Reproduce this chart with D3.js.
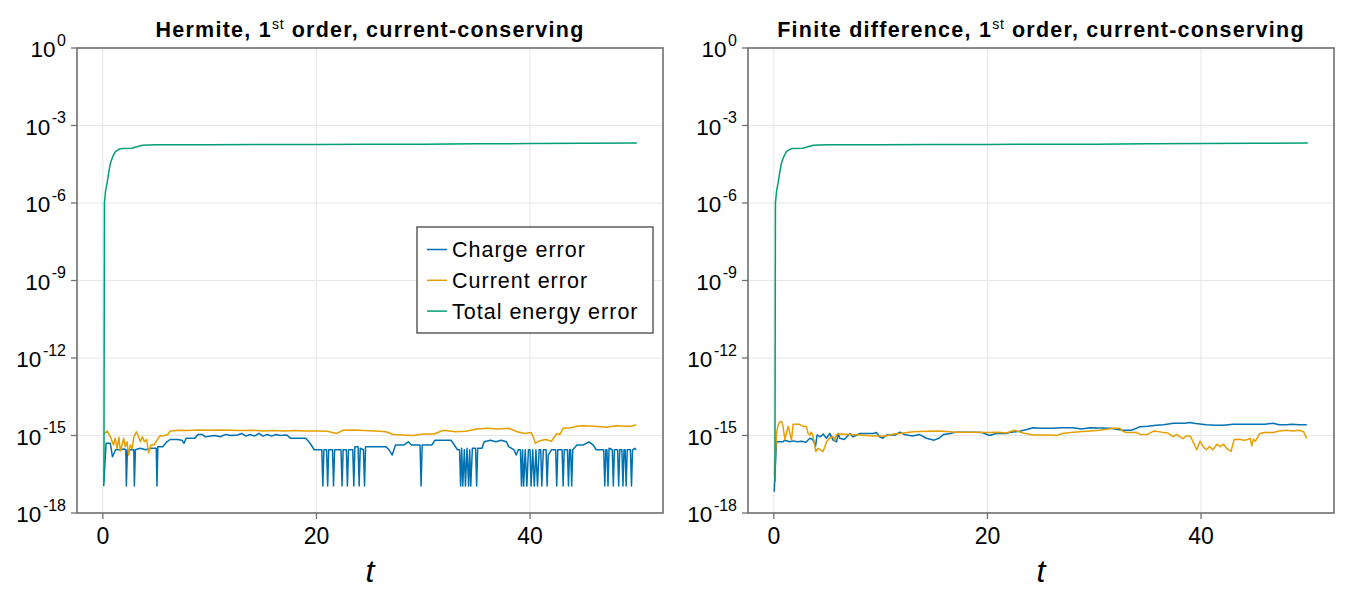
<!DOCTYPE html>
<html><head><meta charset="utf-8">
<script src="https://cdn.jsdelivr.net/npm/d3@7"></script>
<style>
html,body{margin:0;padding:0;background:#fff;}
svg{display:block;}
text{font-family:"Liberation Sans",Arial,sans-serif;}
</style></head>
<body>
<svg id="chart" width="1350" height="596"></svg>
<script>
// ---------- data ----------
const titlesMain = ["Hermite, 1", "Finite difference, 1"];
const titlesSup = ["st", "st"];
const titlesRest = [" order, current-conserving", " order, current-conserving"];
const seriesNames = ["Charge error", "Current error", "Total energy error"];
const seriesColors = ["#0072b2", "#e69f00", "#009e73"];
const xTicks = [0, 20, 40];
const yTickExps = [0, -3, -6, -9, -12, -15, -18];
const xLabel = "t";

const hermiteCharge = [[0.08,1.1e-17],[0.3,5.0e-16],[0.7,5.0e-16],[0.9,1.5e-16],[1.2,2.8e-16],[1.6,2.8e-16],[2.0,3.0e-16],[2.15,2.8e-16],[2.2,1.1e-17],[2.3,2.8e-16],[2.6,2.8e-16],[2.9,2.8e-16],[2.95,1.1e-17],[3.05,2.8e-16],[3.5,3.2e-16],[4.0,2.8e-16],[4.5,3.2e-16],[5.0,3.2e-16],[5.07,1.1e-17],[5.15,3.7e-16],[5.6,3.7e-16],[6.0,5.7e-16],[6.3,7.0e-16],[7.0,7.0e-16],[7.4,6.6e-16],[7.6,5.0e-16],[7.8,7.8e-16],[8.6,7.8e-16],[8.9,1.1e-15],[9.3,1.1e-15],[9.6,8.9e-16],[10.5,1.0e-15],[11.0,8.9e-16],[11.5,1.1e-15],[12.0,1.0e-15],[12.6,1.05e-15],[13.0,1.2e-15],[13.4,9.5e-16],[13.8,1.1e-15],[14.2,9.5e-16],[14.6,1.2e-15],[15.0,9.5e-16],[15.4,1.1e-15],[15.8,9.5e-16],[16.2,1.1e-15],[16.6,1.0e-15],[17.2,1.05e-15],[17.6,7.8e-16],[18.5,7.8e-16],[19.0,7.8e-16],[19.4,5.0e-16],[19.8,2.8e-16],[20.5,2.8e-16],[20.6,1.1e-17],[20.7,2.8e-16],[20.95,2.8e-16],[21.05,1.1e-17],[21.15,2.8e-16],[21.5,2.8e-16],[21.6,1.1e-17],[21.7,2.8e-16],[22.3,2.8e-16],[22.4,1.1e-17],[22.5,2.8e-16],[22.8,2.8e-16],[22.9,1.1e-17],[23.0,2.8e-16],[23.4,2.8e-16],[23.5,1.1e-17],[23.6,3.7e-16],[23.9,3.7e-16],[24.0,1.1e-17],[24.1,3.2e-16],[24.4,2.8e-16],[24.5,1.1e-17],[24.6,3.7e-16],[25.5,3.7e-16],[26.5,3.7e-16],[26.8,2.8e-16],[27.1,1.75e-16],[27.4,4.3e-16],[28.2,4.3e-16],[28.6,5.7e-16],[28.9,4.3e-16],[29.7,4.3e-16],[29.8,1.1e-17],[29.9,4.3e-16],[30.8,4.3e-16],[31.1,6.6e-16],[32.6,6.6e-16],[32.8,5.0e-16],[33.2,2.8e-16],[33.4,2.8e-16],[33.5,1.1e-17],[33.6,3.2e-16],[33.7,1.1e-17],[33.85,2.8e-16],[33.95,1.1e-17],[34.1,3.2e-16],[34.25,1.1e-17],[34.35,2.8e-16],[34.45,1.1e-17],[34.6,3.2e-16],[34.9,3.2e-16],[35.0,1.1e-17],[35.1,3.2e-16],[35.5,3.2e-16],[35.7,5.7e-16],[36.3,6.6e-16],[36.8,5.7e-16],[37.3,6.6e-16],[37.8,5.7e-16],[38.0,3.7e-16],[38.5,2.8e-16],[38.7,1.75e-16],[38.9,2.8e-16],[39.1,2.8e-16],[39.2,1.1e-17],[39.3,2.8e-16],[39.4,1.1e-17],[39.55,2.8e-16],[39.7,1.1e-17],[39.85,2.8e-16],[40.0,2.8e-16],[40.1,1.1e-17],[40.25,2.8e-16],[40.4,1.1e-17],[40.55,2.8e-16],[40.7,1.1e-17],[40.85,2.8e-16],[41.0,2.8e-16],[41.1,1.1e-17],[41.25,2.8e-16],[41.5,2.8e-16],[41.6,1.1e-17],[41.7,1.75e-16],[42.0,2.8e-16],[42.4,2.8e-16],[42.5,1.1e-17],[42.6,2.8e-16],[43.0,2.8e-16],[43.1,1.1e-17],[43.2,2.8e-16],[43.5,2.8e-16],[43.6,1.1e-17],[43.7,2.8e-16],[43.8,2.8e-16],[43.9,1.1e-17],[44.0,2.8e-16],[44.4,4.3e-16],[45.0,4.3e-16],[45.5,5.7e-16],[45.9,4.3e-16],[46.2,2.8e-16],[46.9,2.8e-16],[47.0,1.1e-17],[47.1,2.8e-16],[47.2,2.8e-16],[47.3,1.1e-17],[47.4,3.2e-16],[47.7,2.8e-16],[47.8,1.1e-17],[47.9,2.8e-16],[48.2,2.8e-16],[48.3,1.1e-17],[48.4,2.8e-16],[48.6,2.8e-16],[48.7,1.1e-17],[48.8,2.8e-16],[48.9,2.8e-16],[49.0,1.1e-17],[49.1,2.8e-16],[49.4,2.8e-16],[49.5,1.1e-17],[49.6,2.8e-16],[49.8,3.2e-16],[49.95,2.8e-16]];

const hermiteCurrent = [[0.17,1.2e-15],[0.4,1.5e-15],[0.7,8.9e-16],[1.0,4.3e-16],[1.15,7.8e-16],[1.33,3.2e-16],[1.5,8.5e-16],[1.64,2.5e-16],[1.8,4.3e-16],[1.95,7.8e-16],[2.1,3.7e-16],[2.26,5.7e-16],[2.42,1.75e-16],[2.57,4.3e-16],[2.75,3.2e-16],[2.89,8.5e-16],[3.14,1.4e-15],[3.3,1.0e-15],[3.51,5.7e-16],[3.7,8.9e-16],[3.89,5.7e-16],[4.1,7.0e-16],[4.29,2.1e-16],[4.5,4.3e-16],[4.76,4.3e-16],[5.0,6.0e-16],[5.38,1.0e-15],[5.6,9.5e-16],[6.07,1.1e-15],[6.3,1.45e-15],[7,1.6e-15],[8,1.55e-15],[9,1.65e-15],[10,1.6e-15],[11,1.65e-15],[12,1.6e-15],[13,1.55e-15],[14,1.6e-15],[15,1.5e-15],[16,1.55e-15],[17,1.5e-15],[18,1.55e-15],[19,1.5e-15],[20,1.5e-15],[21,1.45e-15],[21.9,1.2e-15],[22.5,1.6e-15],[23.5,1.65e-15],[24.5,1.55e-15],[25.5,1.5e-15],[26.5,1.4e-15],[27.2,1.1e-15],[28,1.05e-15],[29,1.0e-15],[30,1.15e-15],[31,1.15e-15],[31.9,1.6e-15],[33,1.4e-15],[34,1.45e-15],[35,1.8e-15],[36,1.9e-15],[37,1.8e-15],[38,1.9e-15],[38.8,1.4e-15],[39.5,1.2e-15],[40.1,1.3e-15],[40.3,8.9e-16],[40.5,5.0e-16],[40.8,6.0e-16],[41.1,6.6e-16],[41.5,7.0e-16],[42.0,6.0e-16],[42.5,1.2e-15],[42.8,1.1e-15],[43.1,1.9e-15],[43.8,2.0e-15],[44.4,2.3e-15],[45,2.4e-15],[46,2.3e-15],[47.2,2.1e-15],[48,2.4e-15],[49,2.3e-15],[49.5,2.3e-15],[49.95,2.6e-15]];

const hermiteEnergy = [[0.1,1.6e-17],[0.15,1.0e-6],[0.25,2.8e-6],[0.4,6.0e-6],[0.55,1.5e-5],[0.7,3.4e-5],[0.9,5.8e-5],[1.17,9.7e-5],[1.5,1.2e-4],[1.8,1.3e-4],[2.7,1.32e-4],[3.2,1.5e-4],[3.7,1.72e-4],[5,1.78e-4],[10,1.8e-4],[15,1.85e-4],[20,1.85e-4],[25,1.88e-4],[30,1.9e-4],[35,1.95e-4],[40,2.0e-4],[45,2.05e-4],[50,2.1e-4]];

const fdCharge = [[0.03,6.6e-18],[0.25,5.7e-16],[0.5,5.7e-16],[0.87,5.7e-16],[1.0,6.6e-16],[1.5,5.7e-16],[1.8,6.2e-16],[2.2,5.7e-16],[2.6,6.0e-16],[3.0,5.5e-16],[3.37,7.8e-16],[3.6,7.2e-16],[3.75,5.7e-16],[3.9,3.7e-16],[4.05,1.05e-15],[4.37,8.9e-16],[4.62,1.15e-15],[4.93,7.8e-16],[5.24,1.2e-15],[5.55,6.6e-16],[5.87,5.7e-16],[6.03,1.2e-15],[6.18,7.8e-16],[6.6,7.0e-16],[7.12,1.2e-15],[7.4,8.9e-16],[7.8,1.05e-15],[8.05,1.2e-15],[9.3,1.2e-15],[9.6,1.3e-15],[9.9,8.9e-16],[10.2,7.8e-16],[10.55,1.05e-15],[11.4,1.05e-15],[11.8,1.35e-15],[12.2,1.1e-15],[13.0,9.5e-16],[13.6,1.1e-15],[14.3,7.8e-16],[15.0,6.6e-16],[15.5,8.0e-16],[15.9,1.1e-15],[16.5,1.2e-15],[17.1,1.35e-15],[18.0,1.35e-15],[18.66,1.35e-15],[19.5,1.3e-15],[20.2,1.0e-15],[20.8,1.2e-15],[21.8,1.2e-15],[22.2,1.35e-15],[23.0,1.45e-15],[23.7,1.7e-15],[24.28,2.0e-15],[25.0,1.9e-15],[26,1.9e-15],[27,2.0e-15],[28,2.0e-15],[28.8,1.8e-15],[29.6,2.0e-15],[30.5,1.95e-15],[31.5,1.9e-15],[32.7,1.6e-15],[33.5,1.6e-15],[34.3,2.2e-15],[35,2.3e-15],[35.8,2.5e-15],[36.5,2.6e-15],[37.4,3.0e-15],[38.5,3.0e-15],[38.96,3.2e-15],[39.5,2.9e-15],[40.5,2.6e-15],[41.3,2.5e-15],[42.1,2.5e-15],[43,2.7e-15],[44,2.7e-15],[45,2.7e-15],[46,2.7e-15],[46.75,3.0e-15],[47.3,2.6e-15],[48.0,2.6e-15],[48.5,2.7e-15],[49.2,2.6e-15],[49.9,2.6e-15]];

const fdCurrent = [[0.05,3e-17],[0.25,1.2e-15],[0.4,2.5e-15],[0.56,3.4e-15],[0.75,3.4e-15],[0.87,2.1e-15],[1.03,7.0e-16],[1.19,1.3e-15],[1.35,2.3e-15],[1.5,1.2e-15],[1.65,6.6e-16],[1.81,2.7e-15],[2.43,2.7e-15],[2.6,2.4e-15],[3.06,2.2e-15],[3.2,1.2e-15],[3.37,1.05e-15],[3.5,1.35e-15],[3.6,1.1e-15],[3.75,6.6e-16],[3.93,2.4e-16],[4.15,3.2e-16],[4.37,2.8e-16],[4.62,2.4e-16],[4.93,5.7e-16],[5.24,8.0e-16],[5.55,8.9e-16],[5.7,6.6e-16],[5.87,1.1e-15],[6.18,1.15e-15],[7.12,1.1e-15],[8.05,1.05e-15],[8.7,1.0e-15],[9.3,9.5e-16],[10.55,9.5e-16],[11.2,1.15e-15],[11.8,1.2e-15],[13.04,1.4e-15],[14.3,1.45e-15],[15.54,1.5e-15],[17.1,1.35e-15],[18.66,1.35e-15],[20.2,1.3e-15],[21.0,1.35e-15],[21.8,1.25e-15],[22.5,1.6e-15],[23.34,1.25e-15],[24.28,1.05e-15],[25.84,1.05e-15],[26.5,1.0e-15],[27.0,1.2e-15],[28.0,1.35e-15],[29.6,1.5e-15],[30.5,1.6e-15],[31.0,1.7e-15],[31.7,1.9e-15],[32.4,1.9e-15],[32.7,1.45e-15],[33.0,1.3e-15],[34.0,1.3e-15],[34.3,1.1e-15],[35,1.1e-15],[35.6,1.5e-15],[36.3,1.35e-15],[36.9,1.25e-15],[37.4,8.9e-16],[37.7,1.1e-15],[38.3,7.5e-16],[38.6,9.5e-16],[39.0,9.5e-16],[39.6,2.8e-16],[39.9,6.0e-16],[40.2,3.7e-16],[40.5,2.8e-16],[40.8,3.7e-16],[41.1,2.8e-16],[41.5,4.6e-16],[41.8,3.7e-16],[42.1,4.6e-16],[42.4,3.2e-16],[42.8,2.4e-16],[43.1,7.0e-16],[43.6,7.2e-16],[44.0,6.6e-16],[44.3,6.8e-16],[44.6,7.8e-16],[44.75,4.0e-16],[44.9,7.2e-16],[45.1,6.0e-16],[45.5,1.2e-15],[46.0,1.3e-15],[46.75,1.3e-15],[47.3,1.5e-15],[48.0,1.6e-15],[48.6,1.5e-15],[49.2,1.6e-15],[49.6,1.4e-15],[49.9,7.8e-16]];

const fdEnergy = [[0.1,1.6e-17],[0.15,1.0e-6],[0.25,2.8e-6],[0.4,6.0e-6],[0.55,1.5e-5],[0.7,3.4e-5],[0.9,5.8e-5],[1.17,9.7e-5],[1.5,1.2e-4],[1.8,1.3e-4],[2.7,1.32e-4],[3.2,1.5e-4],[3.7,1.72e-4],[5,1.78e-4],[10,1.8e-4],[15,1.85e-4],[20,1.85e-4],[25,1.88e-4],[30,1.9e-4],[35,1.95e-4],[40,2.0e-4],[45,2.05e-4],[50,2.1e-4]];

// ---------- layout ----------
const svg = d3.select("#chart");
svg.append("rect").attr("width",1350).attr("height",596).attr("fill","#fff");

const panels = [
  {x0:77, x1:663, series:[hermiteCharge, hermiteCurrent, hermiteEnergy], legend:true},
  {x0:748, x1:1334, series:[fdCharge, fdCurrent, fdEnergy], legend:false}
];
const yTop = 48, yBot = 513;
const spineColor = "#707070", gridColor = "#e6e6e6";

panels.forEach((p, pi) => {
  const x = d3.scaleLinear().domain([-2.42, 52.45]).range([p.x0, p.x1]);
  const y = d3.scaleLog().domain([1e-18, 1]).range([yBot, yTop]);
  const g = svg.append("g");
  const cx = (p.x0 + p.x1) / 2;

  // grid
  g.append("g").selectAll("line").data(xTicks).join("line")
    .attr("x1", d => x(d)).attr("x2", d => x(d)).attr("y1", yTop).attr("y2", yBot)
    .attr("stroke", gridColor).attr("stroke-width", 1);
  g.append("g").selectAll("line").data(yTickExps).join("line")
    .attr("x1", p.x0).attr("x2", p.x1).attr("y1", d => y(Math.pow(10, d))).attr("y2", d => y(Math.pow(10, d)))
    .attr("stroke", gridColor).attr("stroke-width", 1);

  // clip
  const clipId = "clip" + pi;
  svg.append("clipPath").attr("id", clipId).append("rect")
    .attr("x", p.x0).attr("y", yTop).attr("width", p.x1 - p.x0).attr("height", yBot - yTop);

  const line = d3.line().x(d => x(d[0])).y(d => y(d[1]));
  const lg = g.append("g").attr("clip-path", `url(#${clipId})`);
  p.series.forEach((s, si) => {
    lg.append("path").datum(s).attr("d", line)
      .attr("fill", "none").attr("stroke", seriesColors[si]).attr("stroke-width", 1.5)
      .attr("stroke-linejoin", "round");
  });

  // spines
  g.append("rect").attr("x", p.x0).attr("y", yTop).attr("width", p.x1 - p.x0).attr("height", yBot - yTop)
    .attr("fill", "none").attr("stroke", spineColor).attr("stroke-width", 1.6);

  // x axis ticks
  const xa = g.append("g");
  xTicks.forEach(t => {
    xa.append("line").attr("x1", x(t)).attr("x2", x(t)).attr("y1", yBot).attr("y2", yBot + 6)
      .attr("stroke", spineColor).attr("stroke-width", 1.3);
    xa.append("text").attr("x", x(t)).attr("y", yBot + 31).attr("text-anchor", "middle")
      .attr("font-size", 23).attr("fill", "#000").text(t);
  });
  // y axis ticks
  yTickExps.forEach(e => {
    const yy = y(Math.pow(10, e));
    g.append("line").attr("x1", p.x0 - 6).attr("x2", p.x0).attr("y1", yy).attr("y2", yy)
      .attr("stroke", spineColor).attr("stroke-width", 1.3);
    const tx = g.append("text").attr("x", p.x0 - 11).attr("y", yy + 9).attr("text-anchor", "end")
      .attr("font-size", 22.5).attr("fill", "#000");
    tx.append("tspan").text("10");
    tx.append("tspan").attr("font-size", 16).attr("dx", 1.5).attr("dy", -11.5).text(e === 0 ? "0" : "-" + Math.abs(e));
  });

  // title
  const tt = g.append("text").attr("x", cx).attr("y", 37).attr("text-anchor", "middle")
    .attr("font-size", 21.5).attr("font-weight", "bold").attr("letter-spacing", 1.25).attr("fill", "#000");
  tt.append("tspan").text(titlesMain[pi]);
  tt.append("tspan").attr("font-size", 14).attr("font-weight", "normal").attr("letter-spacing", 0.8).attr("dy", -8).text(titlesSup[pi]);
  tt.append("tspan").attr("dy", 8).text(titlesRest[pi]);

  // x label
  g.append("text").attr("x", cx).attr("y", 582).attr("text-anchor", "middle")
    .attr("font-family", "'Liberation Serif', 'DejaVu Serif', serif").attr("font-style", "italic")
    .attr("font-size", 32).attr("fill", "#000").text(xLabel);

  // legend
  if (p.legend) {
    const lgd = g.append("g");
    lgd.append("rect").attr("x", 417).attr("y", 227).attr("width", 236).attr("height", 106)
      .attr("fill", "#fff").attr("stroke", "#444").attr("stroke-width", 1.3);
    seriesNames.forEach((n, i) => {
      const yy = 249.5 + i * 30.8;
      lgd.append("line").attr("x1", 427).attr("x2", 447).attr("y1", yy).attr("y2", yy)
        .attr("stroke", seriesColors[i]).attr("stroke-width", 1.5);
      lgd.append("text").attr("x", 452).attr("y", yy + 7.5).attr("font-size", 21.5)
        .attr("letter-spacing", 1.0).attr("fill", "#000").text(n);
    });
  }
});
</script>
</body></html>
